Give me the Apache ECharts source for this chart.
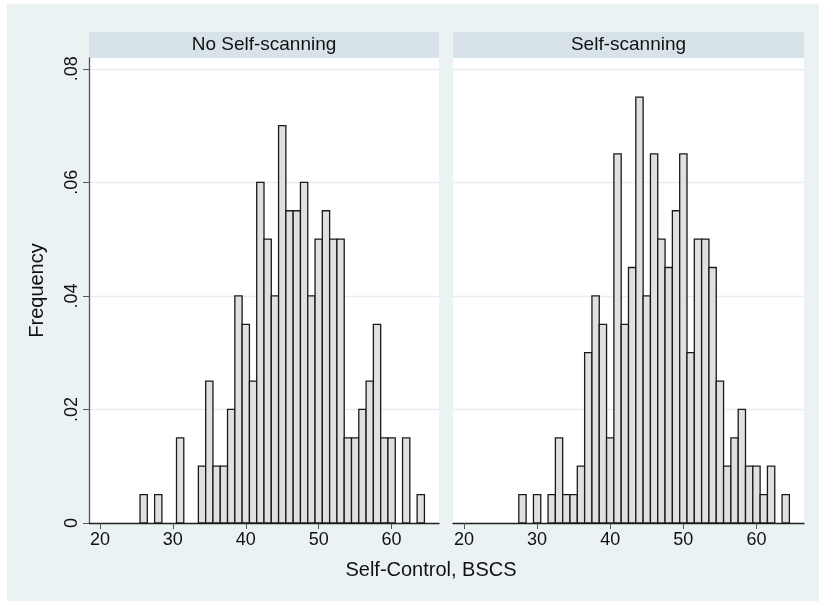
<!DOCTYPE html>
<html>
<head>
<meta charset="utf-8">
<script src="https://cdn.jsdelivr.net/npm/echarts@6/dist/echarts.min.js"></script>
<style>
  html, body { margin: 0; padding: 0; background: #EAF2F3; overflow: hidden; }
  #chart { width: 819px; height: 601px; }
</style>
</head>
<body>
<div id="chart"></div>
<script>
// ---- data (bin centres, bin width 1) ----
var panelTitles = ['No Self-scanning', 'Self-scanning'];
var xTitle = 'Self-Control, BSCS';
var yTitle = 'Frequency';
var xTickValues = [20, 30, 40, 50, 60];
var yTickValues = [0, 0.02, 0.04, 0.06, 0.08];

var noScanBins = [26, 28, 31, 34, 35, 36, 37, 38, 39, 40, 41, 42, 43, 44, 45, 46, 47, 48, 49, 50, 51, 52, 53, 54, 55, 56, 57, 58, 59, 60, 62, 64];
var noScanFreq = [0.005, 0.005, 0.015, 0.01, 0.025, 0.01, 0.01, 0.02, 0.04, 0.035, 0.025, 0.06, 0.05, 0.04, 0.07, 0.055, 0.055, 0.06, 0.04, 0.05, 0.055, 0.05, 0.05, 0.015, 0.015, 0.02, 0.025, 0.035, 0.015, 0.015, 0.015, 0.005];

var scanBins = [28, 30, 32, 33, 34, 35, 36, 37, 38, 39, 40, 41, 42, 43, 44, 45, 46, 47, 48, 49, 50, 51, 52, 53, 54, 55, 56, 57, 58, 59, 60, 61, 62, 64];
var scanFreq = [0.005, 0.005, 0.005, 0.015, 0.005, 0.005, 0.01, 0.03, 0.04, 0.035, 0.015, 0.065, 0.035, 0.045, 0.075, 0.04, 0.065, 0.05, 0.045, 0.055, 0.065, 0.03, 0.05, 0.05, 0.045, 0.025, 0.01, 0.015, 0.02, 0.01, 0.01, 0.005, 0.01, 0.005];

var BIN_WIDTH = 1;

function pairs(xs, ys) { return xs.map(function (x, i) { return [x, ys[i]]; }); }

var FONT = '"Liberation Sans", Helvetica, Arial, sans-serif';
var BG = '#EAF2F3';
var STRIP = '#D8E3E9';
var GRIDC = '#E6EEF0';

function renderBar(params, api) {
  var x = api.value(0), y = api.value(1);
  var p0 = api.coord([x - BIN_WIDTH / 2, y]);
  var p1 = api.coord([x + BIN_WIDTH / 2, 0]);
  return {
    type: 'rect',
    shape: { x: p0[0], y: p0[1], width: p1[0] - p0[0], height: p1[1] - p0[1] },
    style: { fill: '#E0E0E0', stroke: '#1A1A1A', lineWidth: 1.3 }
  };
}

var grids = [
  { left: 89, top: 58, width: 350, height: 465 },
  { left: 453, top: 58, width: 351, height: 465 }
];

function xAxis(i) {
  return {
    type: 'value', gridIndex: i, min: 18.5, max: 66.5,
    axisLine: { show: true, onZero: false, lineStyle: { color: '#222', width: 1.3 } },
    axisTick: { show: true, length: 6, customValues: xTickValues, lineStyle: { color: '#555', width: 1 } },
    axisLabel: { customValues: xTickValues, color: '#111', fontFamily: FONT, fontSize: 18, margin: 8 },
    splitLine: { show: false }
  };
}

function yAxis(i) {
  var showAx = (i === 0);
  return {
    type: 'value', gridIndex: i, min: 0, max: 0.0819, interval: 0.02,
    name: showAx ? yTitle : '',
    nameLocation: 'middle', nameRotate: 90, nameGap: 42,
    nameTextStyle: { color: '#111', fontFamily: FONT, fontSize: 20 },
    axisLine: { show: showAx, lineStyle: { color: '#555', width: 1.3 } },
    axisTick: { show: showAx, length: 6, customValues: yTickValues, lineStyle: { color: '#555', width: 1 } },
    axisLabel: {
      show: showAx, customValues: yTickValues, rotate: 90, margin: 8,
      color: '#111', fontFamily: FONT, fontSize: 18,
      formatter: function (v) { return v === 0 ? '0' : v.toFixed(2).replace(/^0/, ''); }
    },
    splitLine: { show: true, lineStyle: { color: GRIDC, width: 1.3 } }
  };
}

function header(i, text) {
  var g = grids[i];
  return {
    type: 'group', left: g.left, top: 32,
    children: [
      { type: 'rect', shape: { x: 0, y: 0, width: g.width, height: 26 }, style: { fill: STRIP } },
      { type: 'text', x: g.width / 2, y: 13,
        style: { text: text, fill: '#111', font: '19px ' + FONT, textAlign: 'center', textVerticalAlign: 'middle' } }
    ]
  };
}

var chart = echarts.init(document.getElementById('chart'), null, { renderer: 'canvas', width: 819, height: 601 });
chart.setOption({
  backgroundColor: BG,
  animation: false,
  graphic: [
    { type: 'rect', z: -10, x: 0, y: 0, shape: { x: 0, y: 0, width: 819, height: 4 }, style: { fill: '#fff' }, silent: true },
    { type: 'rect', z: -10, x: 0, y: 0, shape: { x: 0, y: 0, width: 7, height: 601 }, style: { fill: '#fff' }, silent: true },
    { type: 'rect', z: -9, x: 89, y: 58, shape: { x: 0, y: 0, width: 350, height: 465 }, style: { fill: '#fff' }, silent: true },
    { type: 'rect', z: -9, x: 453, y: 58, shape: { x: 0, y: 0, width: 351, height: 465 }, style: { fill: '#fff' }, silent: true },
    header(0, panelTitles[0]),
    header(1, panelTitles[1]),
    { type: 'text', x: 431, y: 570,
      style: { text: xTitle, fill: '#111', font: '20px ' + FONT, textAlign: 'center', textVerticalAlign: 'middle' } }
  ],
  grid: grids,
  xAxis: [xAxis(0), xAxis(1)],
  yAxis: [yAxis(0), yAxis(1)],
  series: [
    { type: 'custom', xAxisIndex: 0, yAxisIndex: 0, renderItem: renderBar, encode: { x: 0, y: 1 }, data: pairs(noScanBins, noScanFreq) },
    { type: 'custom', xAxisIndex: 1, yAxisIndex: 1, renderItem: renderBar, encode: { x: 0, y: 1 }, data: pairs(scanBins, scanFreq) }
  ]
});
</script>
</body>
</html>
